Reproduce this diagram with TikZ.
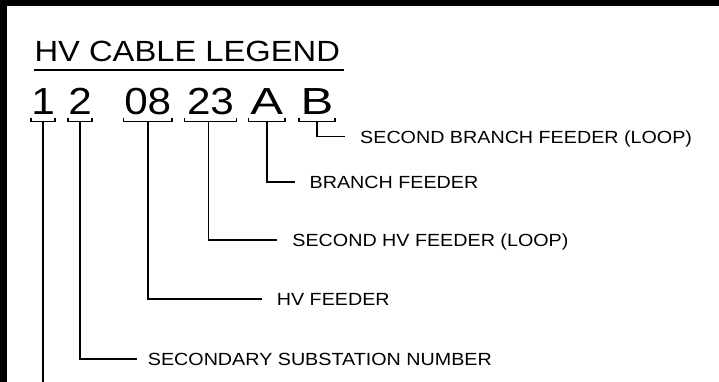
\documentclass[tikz,border=0pt]{standalone}
\usepackage{fontspec}
\newfontfamily\cadfont[FakeStretch=1.12]{Liberation Sans}
\newfontfamily\cadwide[FakeStretch=1.3]{Liberation Sans}
\begin{document}
\begin{tikzpicture}[x=1pt,y=-1pt,
  lead/.style={line width=1.6pt,line join=miter},
  title/.style={inner sep=0pt,anchor=base west,font=\cadfont\fontsize{29.2}{34}\selectfont},
  digit/.style={inner sep=0pt,anchor=base,font=\cadfont\fontsize{37.7}{44}\selectfont},
  letter/.style={digit,font=\cadwide\fontsize{37.7}{44}\selectfont},
  lbl/.style={inner ysep=0pt,anchor=west,text height=12.6pt,text depth=0pt,font=\cadfont\fontsize{17.6}{21}\selectfont}]
\useasboundingbox (0,0) rectangle (719,382);
\fill[white] (0,0) rectangle (719,382);
\fill[black] (0,0) rectangle (719,6);
\fill[black] (0,0) rectangle (7,382);
% title
\node[title] (title) at (34.4,62) {HV CABLE LEGEND};
\draw[line width=2pt] ([xshift=-0.4pt,yshift=-8pt]title.base west) -- ([xshift=4.3pt,yshift=-8pt]title.base east);
% code groups
\node[digit,minimum width=22pt]   (g1) at (43,115)     {1};
\node[digit,minimum width=24pt]   (g2) at (80,115)     {2};
\node[digit,minimum width=48.5pt] (g3) at (147.75,115) {08};
\node[digit,minimum width=51.5pt] (g4) at (210.5,115)  {23};
\node[letter,minimum width=36.5pt] (g5) at (266.75,115) {A};
\node[letter,minimum width=36pt]   (g6) at (317,115)    {B};
\foreach \g in {g1,g2,g3,g4,g5,g6}{
  \draw[lead] ([yshift=-2.7pt]\g.base west) -- ([yshift=-6.7pt]\g.base west)
     -- ([yshift=-6.7pt]\g.base east) -- ([yshift=-2.7pt]\g.base east);
  \coordinate (b\g) at ([yshift=-6.7pt]\g.base);
}
% labels
\node[lbl,inner xsep=15pt]   (l6) at (345,136.7)   {SECOND BRANCH FEEDER (LOOP)};
\node[lbl,inner xsep=14.5pt] (l5) at (295,181.7)   {BRANCH FEEDER};
\node[lbl,inner xsep=15.5pt] (l4) at (276.7,240)   {SECOND HV FEEDER (LOOP)};
\node[lbl,inner xsep=15pt]   (l3) at (261.7,299)   {HV FEEDER};
\node[lbl,inner xsep=11pt]   (l2) at (136.7,359)   {SECONDARY SUBSTATION NUMBER};
\coordinate (e1) at (0,395);
% leaders
\draw[lead] (bg6) |- (l6.west);
\draw[lead] (bg5) |- (l5.west);
\draw[lead] ([xshift=-2pt]bg4) |- (l4.west);
\draw[lead] (bg3) |- (l3.west);
\draw[lead] (bg2) |- (l2.west);
\draw[lead] (bg1) -- (bg1 |- e1);
\end{tikzpicture}
\end{document}
